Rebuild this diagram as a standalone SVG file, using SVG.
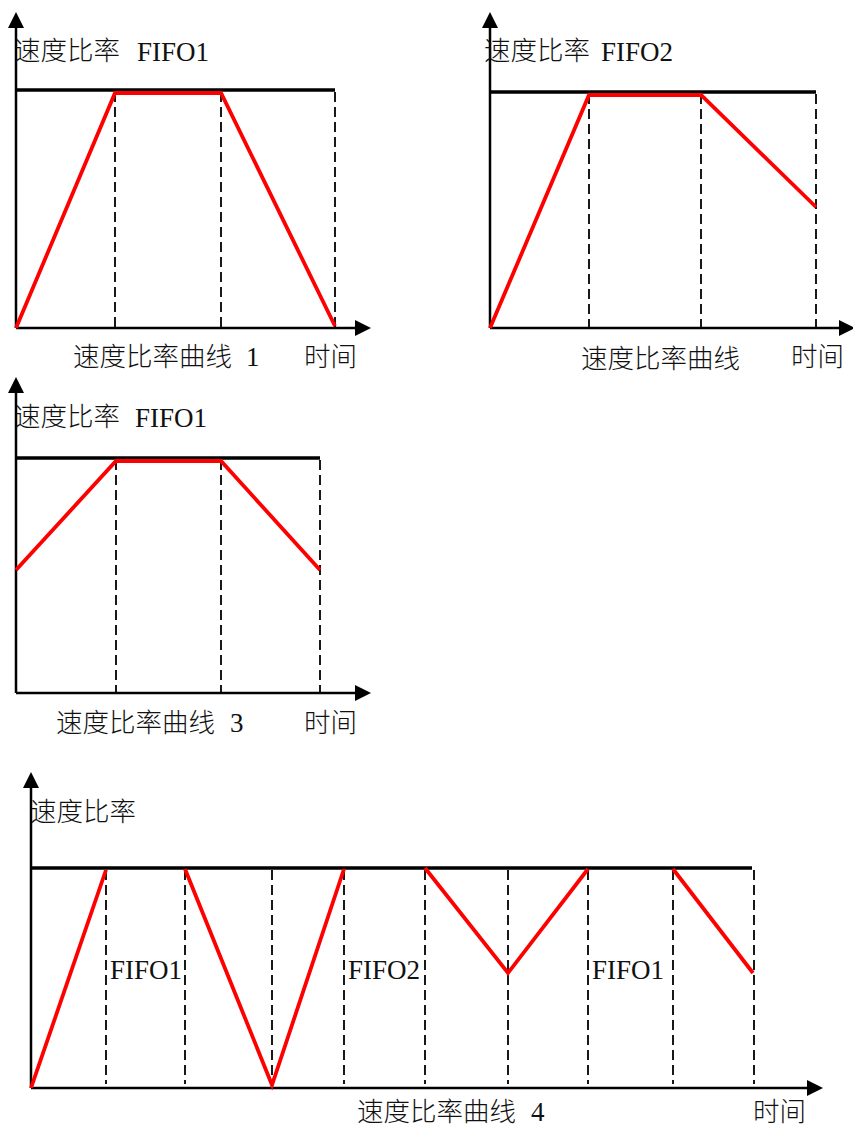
<svg xmlns="http://www.w3.org/2000/svg" width="853" height="1128" viewBox="0 0 853 1128">
<defs>
<style>
.axis{stroke:#000;stroke-width:2.5;fill:none}
.top{stroke:#000;stroke-width:3.5;fill:none}
.dash{stroke:#000;stroke-width:1.8;stroke-dasharray:10,5;fill:none}
.red{stroke:#ff0000;stroke-width:3.8;fill:none;stroke-linejoin:miter}
.cjk{font-family:"Noto Sans CJK SC","Noto Sans CJK JP",sans-serif;font-size:26.5px;font-weight:300;fill:#111}
.lat{font-family:"Liberation Serif","Times New Roman",serif;font-size:27px;fill:#111}
.ah{fill:#000}
</style>
</defs>
<rect width="853" height="1128" fill="#fff"/>

<g id="chart1">
<g id="chart1-connectors">
<line class="axis" x1="16" y1="328" x2="16" y2="24"/>
<polygon class="ah" points="16,12 8,28 24,28"/>
<line class="axis" x1="16" y1="328" x2="358" y2="328"/>
<polygon class="ah" points="371,328 355,320 355,336"/>
<line class="top" x1="16" y1="90" x2="335" y2="90"/>
<line class="dash" x1="115" y1="92" x2="115" y2="327"/>
<line class="dash" x1="221" y1="92" x2="221" y2="327"/>
<line class="dash" x1="335" y1="92" x2="335" y2="327"/>
<polyline class="red" points="16,328 115,93 221,93 335,326"/>
</g>
<text class="cjk" x="14" y="60">速度比率</text>
<text class="lat" x="137" y="61">FIFO1</text>
<text class="cjk" x="73" y="366">速度比率曲线</text>
<text class="lat" x="246" y="366">1</text>
<text class="cjk" x="304" y="366">时间</text>
</g>

<g id="chart2">
<g id="chart2-connectors">
<line class="axis" x1="490" y1="328" x2="490" y2="24"/>
<polygon class="ah" points="490,12 482,28 498,28"/>
<line class="axis" x1="490" y1="328" x2="842" y2="328"/>
<polygon class="ah" points="855,328 839,320 839,336"/>
<line class="top" x1="490" y1="92" x2="816" y2="92"/>
<line class="dash" x1="589" y1="94" x2="589" y2="327"/>
<line class="dash" x1="701" y1="94" x2="701" y2="327"/>
<line class="dash" x1="816" y1="94" x2="816" y2="327"/>
<polyline class="red" points="490,328 589,95 701,95 816,207"/>
</g>
<text class="cjk" x="484" y="60">速度比率</text>
<text class="lat" x="601" y="61">FIFO2</text>
<text class="cjk" x="581" y="368">速度比率曲线</text>
<text class="cjk" x="791" y="366">时间</text>
</g>

<g id="chart3">
<g id="chart3-connectors">
<line class="axis" x1="16" y1="693" x2="16" y2="389"/>
<polygon class="ah" points="16,377 8,393 24,393"/>
<line class="axis" x1="16" y1="693" x2="358" y2="693"/>
<polygon class="ah" points="371,693 355,685 355,701"/>
<line class="top" x1="16" y1="458" x2="320" y2="458"/>
<line class="dash" x1="116" y1="460" x2="116" y2="692"/>
<line class="dash" x1="221" y1="460" x2="221" y2="692"/>
<line class="dash" x1="320" y1="460" x2="320" y2="692"/>
<polyline class="red" points="16,570 116,461 221,461 320,570"/>
</g>
<text class="cjk" x="14" y="426">速度比率</text>
<text class="lat" x="135" y="427">FIFO1</text>
<text class="cjk" x="56" y="732">速度比率曲线</text>
<text class="lat" x="230" y="732">3</text>
<text class="cjk" x="304" y="732">时间</text>
</g>

<g id="chart4">
<g id="chart4-connectors">
<line class="axis" x1="31" y1="1088" x2="31" y2="784"/>
<polygon class="ah" points="31,772 23,788 39,788"/>
<line class="axis" x1="31" y1="1088" x2="810" y2="1088"/>
<polygon class="ah" points="823,1088 807,1080 807,1096"/>
<line class="top" x1="31" y1="868" x2="752" y2="868"/>
<line class="dash" x1="106" y1="870" x2="106" y2="1084"/>
<line class="dash" x1="185" y1="870" x2="185" y2="1084"/>
<line class="dash" x1="272" y1="870" x2="272" y2="1084"/>
<line class="dash" x1="344" y1="870" x2="344" y2="1084"/>
<line class="dash" x1="425" y1="870" x2="425" y2="1084"/>
<line class="dash" x1="508" y1="870" x2="508" y2="1084"/>
<line class="dash" x1="588" y1="870" x2="588" y2="1084"/>
<line class="dash" x1="673" y1="870" x2="673" y2="1084"/>
<line class="dash" x1="754" y1="870" x2="754" y2="1084"/>
<polyline class="red" points="31,1088 106,870"/>
<polyline class="red" points="185,869 272,1085 344,869"/>
<polyline class="red" points="425,868 508,973 588,869"/>
<polyline class="red" points="673,869 753,973"/>
</g>
<text class="cjk" x="30" y="821">速度比率</text>
<text class="lat" x="110" y="979">FIFO1</text>
<text class="lat" x="348" y="979">FIFO2</text>
<text class="lat" x="592" y="979">FIFO1</text>
<text class="cjk" x="357" y="1121">速度比率曲线</text>
<text class="lat" x="531" y="1121">4</text>
<text class="cjk" x="753" y="1121">时间</text>
</g>
</svg>
